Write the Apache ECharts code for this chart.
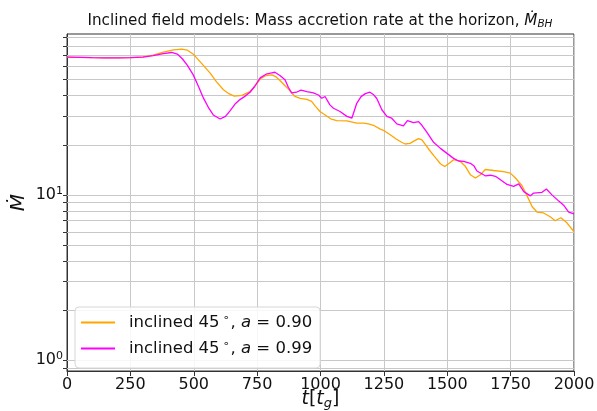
<!DOCTYPE html>
<html>
<head>
<meta charset="utf-8">
<script src="https://cdn.jsdelivr.net/npm/echarts@6/dist/echarts.min.js"></script>
<style>
  html, body { margin: 0; padding: 0; background: #fff; }
  #chart { width: 597px; height: 411px; }
</style>
</head>
<body>
<div id="chart"></div>
<script>
// 数据：inclined 45°, a = 0.90
const timeA090 = [0, 50, 100, 150, 200, 250, 300, 340, 380, 420, 452, 475, 500, 530, 564, 590, 617, 640, 660, 690,
  722, 740, 762, 785, 808, 825, 840, 860, 873, 899, 920, 946, 965, 980, 998, 1020, 1040, 1064, 1104, 1143,
  1170, 1189, 1209, 1236, 1248, 1275, 1300, 1320, 1334, 1353, 1370, 1387, 1400, 1414, 1430, 1446, 1460, 1473, 1490, 1508,
  1525, 1552, 1572, 1591, 1611, 1631, 1650, 1683, 1722, 1749, 1769, 1795, 1815, 1835, 1854, 1880, 1906, 1926, 1948, 1972, 2000];
const mdotA090 = [68.5, 68.3, 68.0, 67.8, 67.9, 68.1, 68.8, 70.5, 73.5, 75.8, 76.7, 75.5, 71, 63, 55, 48.5, 43.5, 41, 39.8, 40.2,
  42.4, 45.5, 50.5, 53, 53.5, 52, 49.5, 46, 44, 39.6, 38.6, 38.0, 37.0, 34.5, 32.1, 30.5, 29, 28.3, 28.2, 27.3,
  27.3, 27.0, 26.5, 25.1, 24.7, 23.2, 21.8, 20.9, 20.4, 20.6, 21.3, 22.0, 21.6, 20.2, 18.7, 17.4, 16.4, 15.5, 14.9, 15.6,
  16.4, 16.0, 14.9, 13.3, 12.7, 13.3, 14.3, 14.1, 13.9, 13.6, 12.7, 11.4, 9.9, 8.5, 7.9, 7.8, 7.4, 7.0, 7.3, 6.8, 6.0];

// 数据：inclined 45°, a = 0.99
const timeA099 = [0, 50, 100, 150, 200, 250, 300, 340, 380, 413, 435, 455, 475, 498, 520, 538, 560, 577, 604, 625,
  643, 662, 682, 700, 722, 740, 762, 785, 808, 820, 840, 860, 873, 886, 905, 923, 946, 972, 992, 1005,
  1018, 1037, 1051, 1077, 1104, 1124, 1143, 1160, 1177, 1195, 1210, 1222, 1242, 1262, 1280, 1301, 1327, 1343, 1367, 1387,
  1400, 1420, 1446, 1473, 1499, 1525, 1545, 1565, 1591, 1606, 1617, 1650, 1670, 1690, 1703, 1736, 1762, 1782, 1802, 1828,
  1841, 1874, 1891, 1914, 1940, 1959, 1979, 2000];
const mdotA099 = [68.5, 68.3, 68.0, 67.8, 67.8, 68.0, 68.6, 70, 72, 73.1, 71.5, 67, 61, 53.5, 45, 38.8, 33.5, 30.6, 28.9, 30,
  32.4, 35.5, 37.9, 39.5, 42, 45.5, 51.3, 54, 55, 55.5, 53, 50, 45, 41.6, 42, 43.2, 42.4, 41.6, 40.4, 38.6,
  39.6, 35.2, 33.6, 32.1, 30, 29.3, 36.0, 39.5, 41.2, 42, 40.5, 38.5, 32.9, 30, 29.3, 27, 26.3, 28.3, 27.5, 27.9,
  26.5, 24, 20.9, 19.2, 17.9, 16.7, 16.1, 16.0, 15.6, 15.0, 14.0, 13.1, 13.2, 13.0, 12.6, 11.6, 11.3, 11.7, 10.5, 9.9,
  10.3, 10.4, 10.9, 10.0, 9.2, 8.7, 7.9, 7.7];

// 刻度
const xTicks = [0, 250, 500, 750, 1000, 1250, 1500, 1750, 2000];
const yMajorTicks = [1, 10];
const yMinorTicks = [0.9, 2, 3, 4, 5, 6, 7, 8, 9, 20, 30, 40, 50, 60, 70, 80, 90];

const seriesNames = ['inclined 45°, a = 0.90', 'inclined 45°, a = 0.99'];
const seriesColors = ['#ffa500', '#ff00ff'];

const zip = (xs, ys) => xs.map((x, i) => [x, ys[i]]);

const chart = echarts.init(document.getElementById('chart'), null, { renderer: 'canvas' });

const gridLineData = yMajorTicks.concat(yMinorTicks).map(v => ({ yAxis: v }));

const legendRich = {
  n: { fontSize: 16.5, color: '#111', fontFamily: 'DejaVu Sans' },
  s: { fontSize: 11, color: '#111', fontFamily: 'DejaVu Sans', verticalAlign: 'top', padding: [0, 1, 8, 3] },
  i: { fontSize: 16.5, color: '#111', fontFamily: 'DejaVu Sans', fontStyle: 'italic' }
};

const option = {
  animation: false,
  backgroundColor: '#fff',
  title: {
    text: '{n|Inclined field models: Mass accretion rate at the horizon, }{i|Ṁ}{sub|BH}',
    left: 320,
    textAlign: 'center',
    top: 13,
    padding: 0,
    textStyle: {
      fontWeight: 'normal',
      rich: {
        n: { fontSize: 15.2, color: '#111', fontFamily: 'DejaVu Sans', fontWeight: 'normal' },
        i: { fontSize: 15.2, color: '#111', fontFamily: 'DejaVu Sans', fontStyle: 'italic', fontWeight: 'normal' },
        sub: { fontSize: 10.5, color: '#111', fontFamily: 'DejaVu Sans', fontStyle: 'italic', fontWeight: 'normal', verticalAlign: 'bottom', padding: [6, 0, 0, 0] }
      }
    }
  },
  grid: {
    left: 67,
    right: 23,
    top: 34,
    bottom: 40,
    containLabel: false,
    outerBoundsMode: 'none',
    show: true,
    borderColor: '#333',
    borderWidth: 1,
    backgroundColor: 'transparent'
  },
  legend: {
    left: 75,
    top: 307,
    orient: 'vertical',
    data: seriesNames,
    backgroundColor: 'rgba(255,255,255,0.85)',
    borderColor: '#d6d6d6',
    borderWidth: 1,
    borderRadius: 4,
    padding: [6, 8, 11, 6],
    itemGap: 8,
    itemWidth: 34,
    itemHeight: 2,
    icon: 'rect',
    formatter: name => {
      const a = name.slice(-4);
      return '{n|inclined 45}{s|∘}{n|, }{i|a}{n| = ' + a + '}';
    },
    textStyle: { rich: legendRich, padding: [0, 0, 0, 9] }
  },
  xAxis: {
    type: 'value',
    min: 0,
    max: 2000,
    interval: 250,
    name: '{i|t}{n|[}{i|t}{sub|g}{n|]}',
    nameLocation: 'middle',
    nameGap: 18,
    nameMoveOverlap: false,
    nameTextStyle: {
      rich: {
        n: { fontSize: 19, color: '#111', fontFamily: 'DejaVu Sans' },
        i: { fontSize: 19, color: '#111', fontFamily: 'DejaVu Sans', fontStyle: 'italic' },
        sub: { fontSize: 13, color: '#111', fontFamily: 'DejaVu Sans', fontStyle: 'italic', verticalAlign: 'bottom', padding: [8, 0, 0, 0] }
      }
    },
    axisLine: { lineStyle: { color: '#333', width: 1 } },
    axisTick: { show: true, length: 5, lineStyle: { color: '#333' } },
    axisLabel: { fontSize: 16, color: '#111', fontFamily: 'DejaVu Sans', margin: 6, formatter: v => String(v) },
    splitLine: { show: true, lineStyle: { color: '#c8c8c8', width: 1 } }
  },
  yAxis: {
    type: 'log',
    logBase: 10,
    min: 0.861,
    max: 94.6,
    name: 'Ṁ',
    nameLocation: 'middle',
    nameRotate: 90,
    nameGap: 38,
    nameMoveOverlap: false,
    nameTextStyle: { fontSize: 20, color: '#111', fontFamily: 'DejaVu Sans', fontStyle: 'italic' },
    axisLine: { show: true, lineStyle: { color: '#333', width: 1 } },
    axisTick: { show: true, length: 4, customValues: yMajorTicks.concat(yMinorTicks), lineStyle: { color: '#333' } },
    axisLabel: {
      customValues: yMajorTicks,
      margin: 4,
      formatter: v => '{b|10}{s|' + Math.round(Math.log10(v)) + '}',
      rich: {
        b: { fontSize: 16, color: '#111', fontFamily: 'DejaVu Sans' },
        s: { fontSize: 11, color: '#111', fontFamily: 'DejaVu Sans', verticalAlign: 'top', padding: [0, 0, 8, 0] }
      }
    },
    splitLine: { show: false }
  },
  series: [
    {
      name: seriesNames[0],
      type: 'line',
      data: zip(timeA090, mdotA090),
      showSymbol: false,
      color: seriesColors[0],
      lineStyle: { width: 1.3 },
      z: 3,
      // 网格线（主、次）
      markLine: {
        silent: true,
        symbol: 'none',
        label: { show: false },
        lineStyle: { color: '#c8c8c8', width: 1, type: 'solid' },
        data: gridLineData,
        z: 1
      }
    },
    {
      name: seriesNames[1],
      type: 'line',
      data: zip(timeA099, mdotA099),
      showSymbol: false,
      color: seriesColors[1],
      lineStyle: { width: 1.3 },
      z: 4
    }
  ]
};

chart.setOption(option);
</script>
</body>
</html>
